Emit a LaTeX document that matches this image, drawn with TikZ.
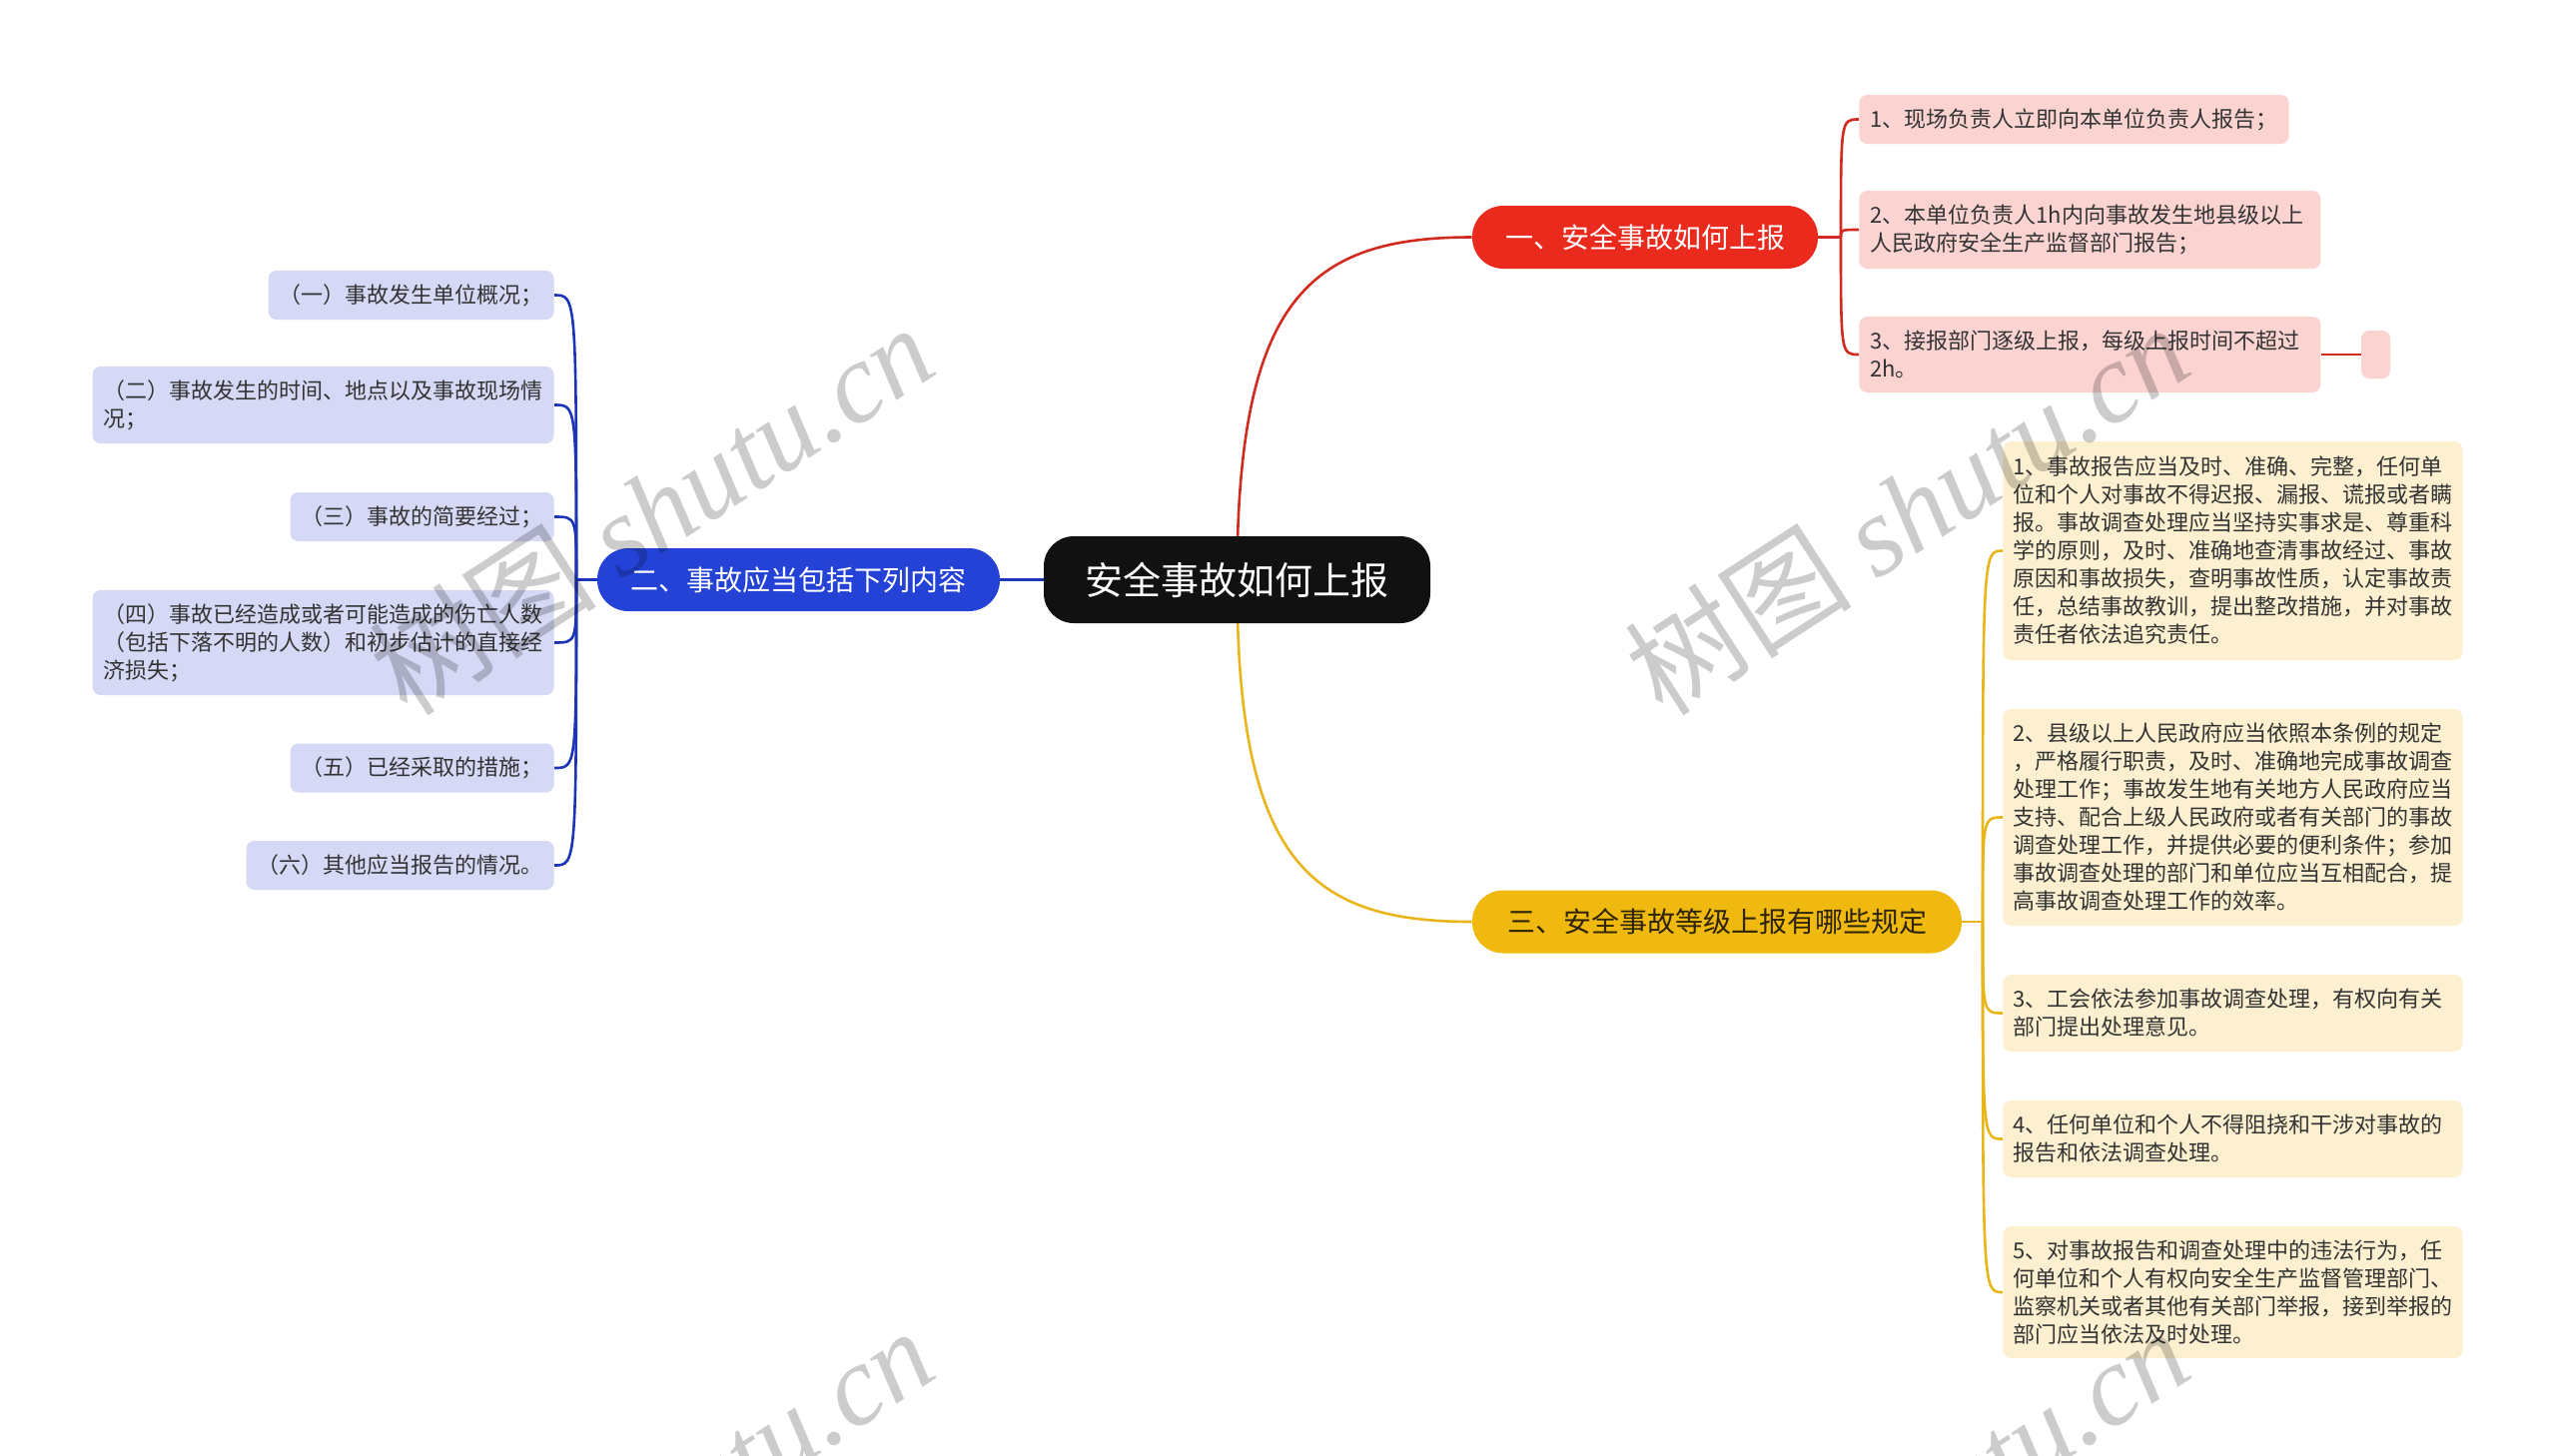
\documentclass[tikz,border=0pt]{standalone}
\usepackage{fontspec}
\setmainfont{Noto Sans CJK SC}
\newfontfamily\wmlatin{Liberation Serif}
\usetikzlibrary{calc}
\pgfdeclarelayer{bg}
\pgfsetlayers{bg,main}
\definecolor{rootc}{HTML}{111111}
\definecolor{redc}{HTML}{E92A1C}
\definecolor{redl}{HTML}{D12A1E}
\definecolor{redf}{HTML}{FBD4D2}
\definecolor{bluec}{HTML}{2443D6}
\definecolor{bluel}{HTML}{1B34B8}
\definecolor{bluef}{HTML}{D5D9F6}
\definecolor{yelc}{HTML}{F0B90F}
\definecolor{yell}{HTML}{E8B61A}
\definecolor{yelf}{HTML}{FCF0D0}
\definecolor{yeltxt}{HTML}{2E2408}
\definecolor{txt}{HTML}{333333}
\begin{document}
\begin{tikzpicture}[x=0.5pt,y=-0.5pt,
  rootbox/.style={fill=rootc, text=white, rounded corners=15pt, minimum width=193.5pt, minimum height=43.5pt, inner sep=0pt, font=\fontsize{19}{23}\selectfont},
  branch/.style={rounded corners=15.5pt, minimum height=31.5pt, inner sep=0pt, font=\fontsize{14}{17}\selectfont},
  leaf/.style={rounded corners=4pt, font=\fontsize{11}{14}\selectfont, text=txt, inner xsep=5.5pt, inner ysep=0pt},
  wide/.style={leaf, text width=220pt, align=left},
  redleaf/.style={fill=redf},
  blueleaf/.style={fill=bluef, anchor=east},
  yelleaf/.style={wide, fill=yelf, anchor=west, inner xsep=5pt},
  redlink/.style={draw=redl, line width=1.3pt},
  bluelink/.style={draw=bluel, line width=1.3pt},
  yellink/.style={draw=yell, line width=1.3pt},
  wm/.style={text=black, text opacity=0.2, font=\fontsize{57}{57}\selectfont, inner sep=0pt}
]
\begin{pgfonlayer}{bg}
\fill[white] (0,0) rectangle (2560,1457);
\end{pgfonlayer}
\useasboundingbox (0,0) rectangle (2560,1457);

% root and branches
\node[rootbox] (root) at (1238.5,580.5) {安全事故如何上报};
\node[branch, fill=redc, text=white, minimum width=173pt] (b1) at (1647,237.5) {一、安全事故如何上报};
\node[branch, fill=bluec, text=white, minimum width=201.5pt] (b2) at (799.5,580.5) {二、事故应当包括下列内容};
\node[branch, fill=yelc, text=yeltxt, minimum width=245pt] (b3) at (1719,923) {三、安全事故等级上报有哪些规定};

% red children
\node[leaf, redleaf, anchor=west, minimum height=24.5pt] (r1) at (1861,119.5) {1、现场负责人立即向本单位负责人报告；};
\node[wide, redleaf, anchor=west, minimum height=39pt] (r2) at (1861,230) {2、本单位负责人1h内向事故发生地县级以上\\人民政府安全生产监督部门报告；};
\node[wide, redleaf, anchor=west, minimum height=38pt] (r3) at (1861,355) {3、接报部门逐级上报，每级上报时间不超过\\2h。};
\node[leaf, redleaf, minimum width=14.5pt, minimum height=24pt, inner sep=0pt] (r4) at (2378.5,355) {};

% blue children
\node[leaf, blueleaf, minimum height=24.5pt] (c1) at (555,295.5) {（一）事故发生单位概况；};
\node[wide, blueleaf, minimum height=38.5pt] (c2) at (555,405.5) {（二）事故发生的时间、地点以及事故现场情\\况；};
\node[leaf, blueleaf, minimum height=24.5pt] (c3) at (555,517.5) {（三）事故的简要经过；};
\node[wide, blueleaf, minimum height=52.5pt] (c4) at (555,643.5) {（四）事故已经造成或者可能造成的伤亡人数\\（包括下落不明的人数）和初步估计的直接经\\济损失；};
\node[leaf, blueleaf, minimum height=24.5pt] (c5) at (555,769) {（五）已经采取的措施；};
\node[leaf, blueleaf, minimum height=24.5pt] (c6) at (555,866.5) {（六）其他应当报告的情况。};

% yellow children
\node[yelleaf, minimum height=109.5pt] (y1) at (2005,551.5) {1、事故报告应当及时、准确、完整，任何单\\位和个人对事故不得迟报、漏报、谎报或者瞒\\报。事故调查处理应当坚持实事求是、尊重科\\学的原则，及时、准确地查清事故经过、事故\\原因和事故损失，查明事故性质，认定事故责\\任，总结事故教训，提出整改措施，并对事故\\责任者依法追究责任。};
\node[yelleaf, minimum height=108.5pt] (y2) at (2005,818.5) {2、县级以上人民政府应当依照本条例的规定\\，严格履行职责，及时、准确地完成事故调查\\处理工作；事故发生地有关地方人民政府应当\\支持、配合上级人民政府或者有关部门的事故\\调查处理工作，并提供必要的便利条件；参加\\事故调查处理的部门和单位应当互相配合，提\\高事故调查处理工作的效率。};
\node[yelleaf, minimum height=38.5pt] (y3) at (2005,1014.5) {3、工会依法参加事故调查处理，有权向有关\\部门提出处理意见。};
\node[yelleaf, minimum height=38.5pt] (y4) at (2005,1140.5) {4、任何单位和个人不得阻挠和干涉对事故的\\报告和依法调查处理。};
\node[yelleaf, minimum height=66pt] (y5) at (2005,1294) {5、对事故报告和调查处理中的违法行为，任\\何单位和个人有权向安全生产监督管理部门、\\监察机关或者其他有关部门举报，接到举报的\\部门应当依法及时处理。};

\coordinate (rj) at (1843,237.5);
\coordinate (bj) at (577,580.5);
\coordinate (yj) at (1985,923);

\begin{pgfonlayer}{bg}
\draw[redlink] (root.center) .. controls (1238.5,300) and (1310,237.5) .. (b1.west);
\draw[yellink] (root.center) .. controls (1238.5,861) and (1310,923) .. (b3.west);
\draw[bluelink] (root.center) -- (b2.east);
\draw[redlink] (b1.east) -- (rj);
\foreach \n in {r1,r2,r3} \draw[redlink] (rj) .. controls (rj |- \n.west) .. (\n.west);
\draw[redlink] (r3.east) -- (r4.west);
\draw[bluelink] (b2.west) -- (bj);
\foreach \n in {c1,c2,c3,c4,c5,c6} \draw[bluelink] (bj) .. controls (bj |- \n.east) .. (\n.east);
\draw[yellink] (b3.east) -- (yj);
\foreach \n in {y1,y2,y3,y4,y5} \draw[yellink] (yj) .. controls (yj |- \n.west) .. (\n.west);
\end{pgfonlayer}

% watermarks
\begin{scope}
\clip (0,0) rectangle (2560,1457);
\node[wm, rotate=33] (wm1) at (652,510) {树图 {\wmlatin\itshape shutu.cn}};
\node[wm, rotate=33] (wm2) at (1909,510) {树图 {\wmlatin\itshape shutu.cn}};
\node[wm, rotate=33] (wm3) at (652,1514) {树图 {\wmlatin\itshape shutu.cn}};
\node[wm, rotate=33] (wm4) at (1909,1514) {树图 {\wmlatin\itshape shutu.cn}};
\end{scope}
\end{tikzpicture}
\end{document}
